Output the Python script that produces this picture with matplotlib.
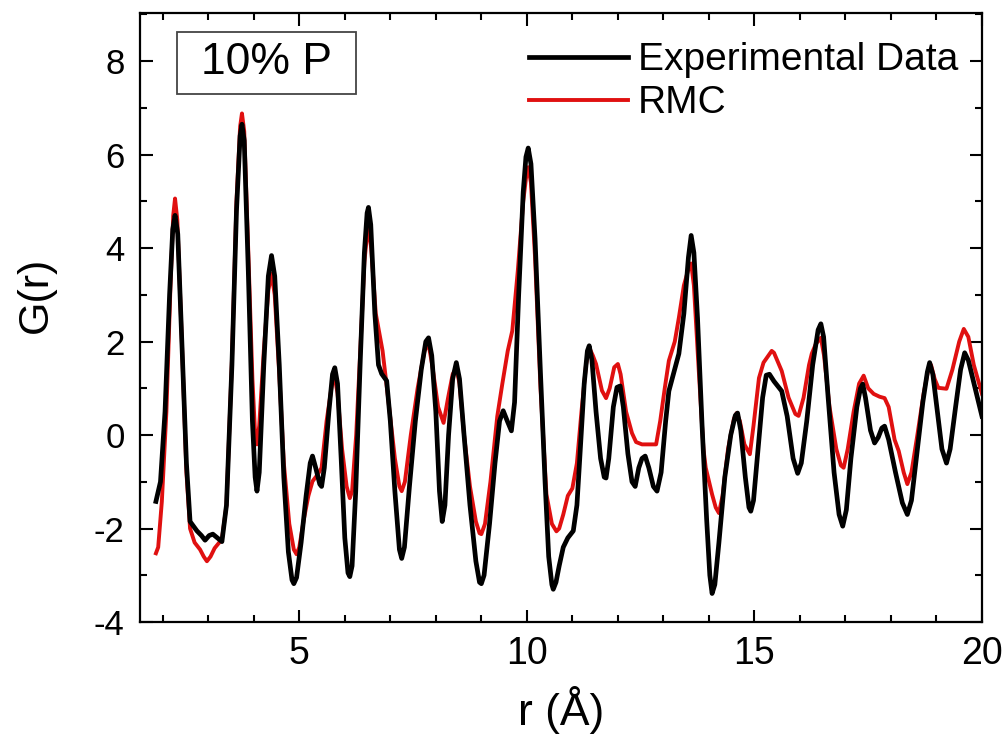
import matplotlib
matplotlib.use("Agg")
import matplotlib.pyplot as plt
from matplotlib.ticker import MultipleLocator
from matplotlib.patches import Rectangle

plt.rcParams['font.family'] = ['Liberation Sans', 'DejaVu Sans']
plt.rcParams['axes.unicode_minus'] = False

# Experimental data (black)
exp_r = [1.85, 1.95, 2.05, 2.15, 2.22, 2.27, 2.33, 2.42, 2.52, 2.60, 2.75, 2.85, 2.93, 3.02, 3.10,
         3.20, 3.30, 3.40, 3.52, 3.62, 3.70, 3.74, 3.79, 3.88, 3.97, 4.03, 4.07, 4.12, 4.22, 4.32,
         4.39, 4.46, 4.56, 4.66, 4.76, 4.84, 4.88, 4.94, 5.04, 5.15, 5.24, 5.29, 5.36, 5.45, 5.49,
         5.55, 5.65, 5.73, 5.78, 5.84, 5.92, 6.00, 6.07, 6.11, 6.16, 6.24, 6.34, 6.43, 6.49, 6.52,
         6.57, 6.66, 6.74, 6.81, 6.92, 7.00, 7.10, 7.20, 7.25, 7.31, 7.42, 7.55, 7.68, 7.78, 7.84,
         7.91, 8.00, 8.08, 8.14, 8.20, 8.28, 8.37, 8.45, 8.52, 8.62, 8.75, 8.88, 8.96, 9.00, 9.06,
         9.18, 9.30, 9.40, 9.48, 9.57, 9.66, 9.73, 9.82, 9.92, 9.98, 10.03, 10.09, 10.18, 10.30, 10.40,
         10.48, 10.55, 10.58, 10.64, 10.71, 10.80, 10.90, 11.02, 11.10, 11.15, 11.26, 11.33, 11.37, 11.43, 11.52,
         11.62, 11.70, 11.74, 11.80, 11.90, 11.98, 12.05, 12.12, 12.22, 12.31, 12.38, 12.46, 12.53, 12.60, 12.68,
         12.78, 12.86, 12.95, 13.05, 13.12, 13.22, 13.34, 13.45, 13.55, 13.61, 13.67, 13.75, 13.85, 13.95, 14.02,
         14.07, 14.13, 14.22, 14.35, 14.48, 14.58, 14.63, 14.70, 14.80, 14.88, 14.92, 14.98, 15.08, 15.18, 15.26,
         15.33, 15.43, 15.60, 15.72, 15.85, 15.95, 16.03, 16.15, 16.28, 16.40, 16.46, 16.52, 16.62, 16.75, 16.86,
         16.94, 17.02, 17.12, 17.25, 17.33, 17.38, 17.44, 17.55, 17.64, 17.72, 17.80, 17.86, 17.95, 18.10, 18.25,
         18.36, 18.45, 18.58, 18.70, 18.80, 18.85, 18.92, 19.02, 19.12, 19.22, 19.30, 19.42, 19.53, 19.62, 19.70,
         19.80, 19.90, 20.00]
exp_g = [-1.42, -1.0, 0.5, 3.0, 4.4, 4.7, 4.3, 2.0, -0.6, -1.85, -2.05, -2.15, -2.25, -2.15, -2.12,
         -2.2, -2.28, -1.5, 1.5, 4.8, 6.4, 6.65, 6.3, 3.5, 0.3, -0.9, -1.2, -0.8, 1.5, 3.4,
         3.84, 3.4, 1.5, -0.9, -2.5, -3.1, -3.18, -3.05, -2.3, -1.3, -0.6, -0.45, -0.7, -1.05, -1.1,
         -0.7, 0.5, 1.3, 1.44, 1.1, -0.5, -2.2, -2.95, -3.03, -2.8, -1.2, 1.6, 3.9, 4.75, 4.87,
         4.5, 2.6, 1.5, 1.31, 1.16, 0.3, -1.2, -2.45, -2.64, -2.4, -1.1, 0.3, 1.4, 2.0, 2.08,
         1.7, 0.5, -1.2, -1.85, -1.5, 0.0, 1.2, 1.55, 1.2, 0.0, -1.5, -2.7, -3.15, -3.18, -3.0,
         -1.9, -0.6, 0.3, 0.52, 0.3, 0.09, 0.7, 3.0, 5.2, 5.95, 6.14, 5.8, 4.2, 1.3, -1.0,
         -2.6, -3.2, -3.3, -3.15, -2.8, -2.4, -2.2, -2.05, -1.5, -0.7, 1.1, 1.8, 1.91, 1.6, 0.5,
         -0.5, -0.9, -0.92, -0.5, 0.6, 1.02, 1.05, 0.6, -0.4, -1.0, -1.1, -0.7, -0.5, -0.45, -0.7,
         -1.1, -1.2, -0.8, 0.3, 0.94, 1.3, 1.74, 2.6, 3.8, 4.27, 3.9, 2.5, 0.2, -1.8, -3.0,
         -3.39, -3.2, -2.3, -0.9, 0.0, 0.42, 0.47, 0.1, -0.9, -1.55, -1.63, -1.4, -0.3, 0.8, 1.28,
         1.3, 1.15, 0.94, 0.4, -0.5, -0.82, -0.6, 0.3, 1.5, 2.25, 2.38, 2.1, 0.8, -0.8, -1.7,
         -1.95, -1.6, -0.5, 0.6, 1.0, 1.09, 0.8, 0.1, -0.17, -0.05, 0.15, 0.19, -0.1, -0.8, -1.45,
         -1.7, -1.4, -0.3, 0.7, 1.35, 1.55, 1.3, 0.5, -0.3, -0.6, -0.3, 0.6, 1.4, 1.76, 1.6,
         1.2, 0.8, 0.4]

# RMC fit (red)
rmc_r = [1.85, 1.90, 1.98, 2.08, 2.17, 2.23, 2.27, 2.32, 2.42, 2.52, 2.60, 2.70, 2.82, 2.90, 2.97,
         3.05, 3.14, 3.30, 3.40, 3.52, 3.62, 3.70, 3.74, 3.79, 3.88, 3.97, 4.03, 4.07, 4.12, 4.22,
         4.32, 4.39, 4.46, 4.56, 4.66, 4.78, 4.88, 4.94, 5.00, 5.10, 5.20, 5.29, 5.40, 5.49, 5.60,
         5.72, 5.78, 5.84, 5.94, 6.04, 6.11, 6.16, 6.25, 6.34, 6.43, 6.49, 6.52, 6.58, 6.68, 6.83,
         6.95, 7.10, 7.20, 7.25, 7.32, 7.45, 7.60, 7.75, 7.84, 7.92, 8.05, 8.17, 8.27, 8.37, 8.45,
         8.52, 8.62, 8.75, 8.88, 8.96, 9.00, 9.08, 9.20, 9.35, 9.46, 9.58, 9.68, 9.80, 9.92, 10.00,
         10.03, 10.09, 10.18, 10.30, 10.43, 10.55, 10.65, 10.71, 10.80, 10.90, 11.00, 11.10, 11.20, 11.30, 11.37,
         11.45, 11.52, 11.65, 11.74, 11.82, 11.92, 12.00, 12.06, 12.18, 12.31, 12.40, 12.53, 12.70, 12.84, 12.93,
         13.03, 13.12, 13.25, 13.34, 13.45, 13.55, 13.61, 13.67, 13.77, 13.88, 13.93, 14.07, 14.15, 14.22, 14.30,
         14.42, 14.55, 14.61, 14.68, 14.78, 14.90, 14.98, 15.10, 15.20, 15.38, 15.43, 15.60, 15.75, 15.90, 15.97,
         16.08, 16.20, 16.26, 16.35, 16.46, 16.53, 16.65, 16.80, 16.90, 16.96, 17.05, 17.18, 17.30, 17.40, 17.50,
         17.62, 17.75, 17.86, 17.95, 18.08, 18.17, 18.28, 18.36, 18.45, 18.58, 18.72, 18.82, 18.88, 18.96, 19.04,
         19.22, 19.35, 19.50, 19.60, 19.70, 19.82, 20.00]
rmc_g = [-2.53, -2.4, -1.42, 0.5, 3.2, 4.7, 5.06, 4.6, 2.0, -0.8, -2.0, -2.3, -2.45, -2.6, -2.7,
         -2.6, -2.42, -2.23, -1.5, 1.6, 5.0, 6.6, 6.88, 6.5, 3.9, 1.2, 0.0, -0.2, 0.2, 1.8,
         3.1, 3.45, 3.0, 1.3, -0.6, -1.9, -2.45, -2.55, -2.4, -1.8, -1.3, -0.99, -0.85, -0.7, 0.3,
         1.1, 1.22, 0.9, -0.3, -1.1, -1.35, -1.2, 0.0, 1.8, 3.7, 4.3, 4.44, 4.0, 2.6, 1.8,
         0.8, -0.5, -1.1, -1.2, -1.0, 0.0, 1.0, 1.8, 1.95, 1.5, 0.6, 0.26, 0.8, 1.3, 1.44,
         1.1, 0.0, -1.1, -1.85, -2.1, -2.12, -1.9, -1.0, 0.4, 1.09, 1.8, 2.23, 3.5, 5.0, 5.65,
         5.73, 5.4, 3.8, 1.0, -1.27, -1.9, -2.06, -2.0, -1.7, -1.3, -1.14, -0.6, 0.5, 1.5, 1.87,
         1.7, 1.52, 0.95, 0.79, 1.0, 1.45, 1.52, 1.3, 0.5, 0.04, -0.15, -0.2, -0.2, -0.2, 0.3,
         1.0, 1.59, 2.0, 2.51, 3.2, 3.55, 3.67, 3.2, 1.5, -0.3, -0.7, -1.27, -1.55, -1.67, -1.3,
         -0.3, 0.35, 0.47, 0.3, -0.2, -0.41, 0.2, 1.22, 1.55, 1.8, 1.76, 1.37, 0.8, 0.45, 0.41,
         0.8, 1.5, 1.74, 1.95, 2.08, 1.7, 0.6, -0.3, -0.65, -0.7, -0.3, 0.5, 1.1, 1.27, 1.0,
         0.88, 0.82, 0.79, 0.6, -0.1, -0.34, -0.8, -1.05, -0.8, 0.0, 0.9, 1.4, 1.5, 1.2, 1.01,
         0.99, 1.4, 2.0, 2.27, 2.1, 1.5, 0.88]

x_ticks = [5, 10, 15, 20]
y_ticks = [-4, -2, 0, 2, 4, 6, 8]

fig = plt.figure(figsize=(10.05, 7.45), dpi=100)
ax = fig.add_axes([0.1393, 0.1651, 0.8378, 0.8175])

ax.plot(rmc_r, rmc_g, color='#e01010', lw=2.8, label='RMC', zorder=2,
        solid_joinstyle='round')
ax.plot(exp_r, exp_g, color='black', lw=3.4, label='Experimental Data', zorder=3,
        solid_joinstyle='round')

ax.set_xlim(1.5, 20)
ax.set_ylim(-4, 9.03)
ax.set_xticks(x_ticks)
ax.set_yticks(y_ticks)
ax.xaxis.set_minor_locator(MultipleLocator(1))
ax.yaxis.set_minor_locator(MultipleLocator(1))
ax.tick_params(which='both', direction='in', top=True, right=True, width=1.5, colors='black')
ax.tick_params(which='major', length=9)
ax.tick_params(which='minor', length=5)
ax.tick_params(axis='y', which='major', labelsize=25, pad=11)
ax.tick_params(axis='x', which='major', labelsize=27, pad=10)
for s in ax.spines.values():
    s.set_linewidth(1.6)

ax.set_xlabel('r (Å)', fontsize=32, labelpad=10)
ax.set_ylabel('G(r)', fontsize=31)
ax.yaxis.set_label_coords(-0.1, 0.537)

handles, labels = ax.get_legend_handles_labels()
leg = ax.legend(handles[::-1], labels[::-1], loc='upper right', bbox_to_anchor=(0.9715, 0.952),
                frameon=False, fontsize=28, handlelength=2.55, handletextpad=0.24,
                labelspacing=0.18, borderpad=0, borderaxespad=0)

ax.add_patch(Rectangle((0.0439, 0.867), 0.2126, 0.102, transform=ax.transAxes,
                       facecolor='white', edgecolor='#444444', linewidth=1.3, zorder=4))
ax.text(0.150, 0.918, '10% P', transform=ax.transAxes, fontsize=32, ha='center', va='center',
        zorder=5)

fig.savefig('out.png', dpi=100)
